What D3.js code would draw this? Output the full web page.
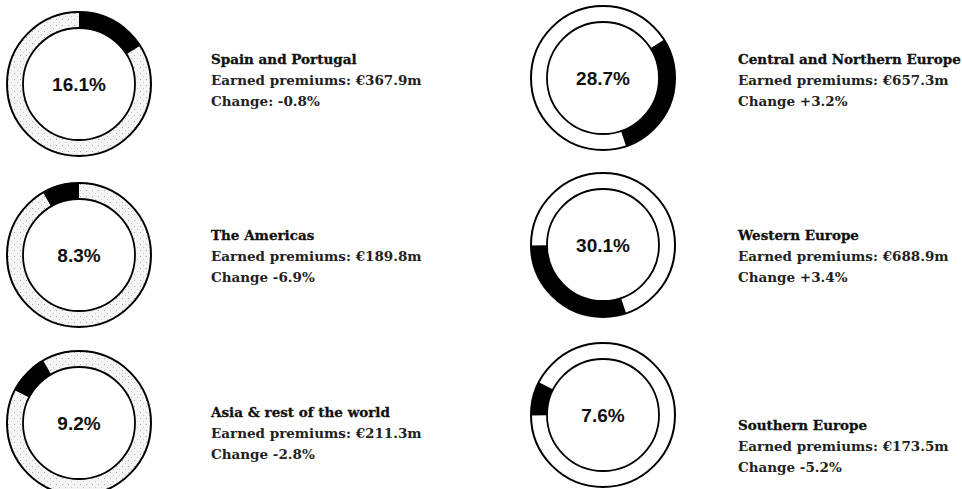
<!DOCTYPE html>
<html><head><meta charset="utf-8">
<script src="https://cdn.jsdelivr.net/npm/d3@7"></script>
<style>
html,body{margin:0;padding:0;background:#fff;}
svg{display:block;}
</style></head>
<body>
<svg id="chart" width="962" height="489"></svg>
<script>
// ---- data ----
const regions = ["Spain and Portugal","Central and Northern Europe","Western Europe","Southern Europe","Asia & rest of the world","The Americas"];
const shares = [16.1, 28.7, 30.1, 7.6, 9.2, 8.3];
const premiums = ["€367.9m","€657.3m","€688.9m","€173.5m","€211.3m","€189.8m"];
const changeLabels = ["Change: -0.8%","Change +3.2%","Change +3.4%","Change -5.2%","Change -2.8%","Change -6.9%"];
// grid placement: column (0 left, 1 right), row (0..2)
const columns = [0, 1, 1, 1, 0, 0];
const rows = [0, 0, 1, 2, 2, 1];

// ---- layout ----
const svg = d3.select("#chart");
const defs = svg.append("defs");
const pat = defs.append("pattern").attr("id","stipple").attr("patternUnits","userSpaceOnUse")
  .attr("width",6).attr("height",6);
pat.append("rect").attr("width",6).attr("height",6).attr("fill","#f5f5f5");
pat.append("rect").attr("x",1).attr("y",1).attr("width",1).attr("height",1).attr("fill","#a8a8a8");
pat.append("rect").attr("x",4).attr("y",4).attr("width",1).attr("height",1).attr("fill","#c8c8c8");

const colX = d3.scaleOrdinal().domain([0,1]).range([79, 603]);
const rowYLeft = d3.scaleOrdinal().domain([0,1,2]).range([84, 255, 423]);
const rowYRight = d3.scaleOrdinal().domain([0,1,2]).range([78, 245, 415]);
const textX = d3.scaleOrdinal().domain([0,1]).range([211, 738]);
const textY0Left = d3.scaleOrdinal().domain([0,1,2]).range([64, 240, 417]);
const textY0Right = d3.scaleOrdinal().domain([0,1,2]).range([64, 240, 430]);
const lineH = 21;

const R = 72, r = 56;
const pie = d3.pie().sort(null).value(d => d)(shares);
const arc = d3.arc().innerRadius(r).outerRadius(R);

regions.forEach((name, i) => {
  const c = columns[i], row = rows[i];
  const cx = colX(c), cy = c === 0 ? rowYLeft(row) : rowYRight(row);
  const g = svg.append("g").attr("transform", `translate(${cx},${cy})`);
  g.append("path")
    .attr("d", d3.arc().innerRadius(r).outerRadius(R).startAngle(0).endAngle(2*Math.PI)())
    .attr("fill", c === 0 ? "url(#stipple)" : "#fff");
  g.append("path").attr("d", arc(pie[i])).attr("fill", "#000");
  g.append("circle").attr("r", R).attr("fill","none").attr("stroke","#000").attr("stroke-width",2);
  g.append("circle").attr("r", r).attr("fill","none").attr("stroke","#000").attr("stroke-width",1.8);
  g.append("text").attr("text-anchor","middle").attr("dy","0.36em")
    .attr("font-family","Liberation Sans, Arial, sans-serif").attr("font-weight","bold")
    .attr("font-size",19).attr("fill","#111")
    .text(d3.format(".1f")(shares[i]) + "%");

  const tx = textX(c), ty = c === 0 ? textY0Left(row) : textY0Right(row);
  const t = svg.append("g").attr("font-family","DejaVu Serif, serif").attr("font-size",13.5)
    .attr("font-weight","bold").attr("fill","#111");
  t.append("text").attr("x",tx).attr("y",ty).attr("stroke","#111").attr("stroke-width",0.3).text(name);
  t.append("text").attr("x",tx).attr("y",ty+lineH).attr("fill","#222").text("Earned premiums: " + premiums[i]);
  t.append("text").attr("x",tx).attr("y",ty+2*lineH).attr("fill","#222").text(changeLabels[i]);
});
</script>
</body></html>
